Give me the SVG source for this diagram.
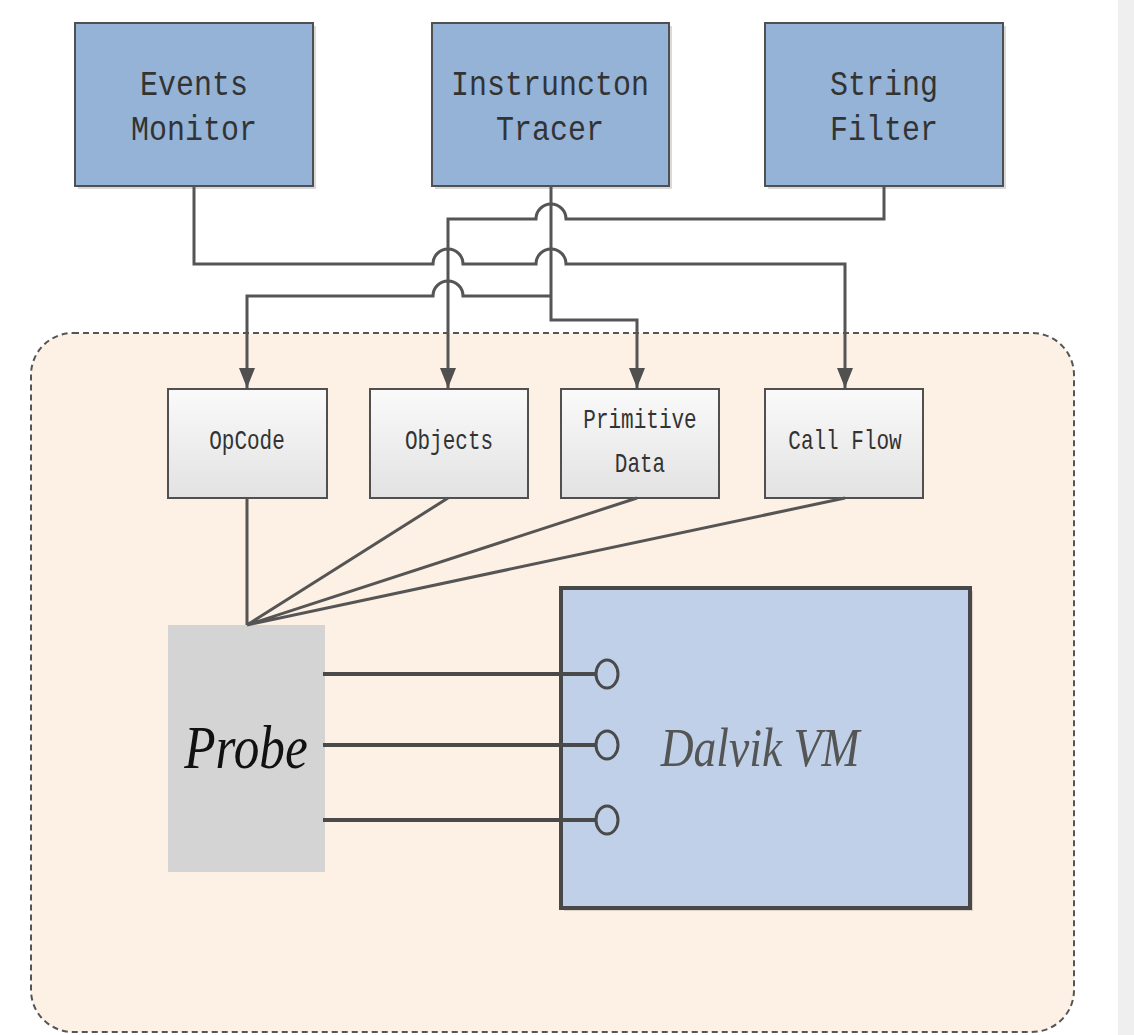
<svg xmlns="http://www.w3.org/2000/svg" width="1134" height="1035" viewBox="0 0 1134 1035">
<style>
.top{fill:#95b3d7;stroke:#505050;stroke-width:2}
.shadow{fill:#000;opacity:0.15}
.mid{fill:url(#midg);stroke:#505050;stroke-width:2}
.tt{font-family:"Liberation Mono",monospace;font-size:30px;fill:#333;text-anchor:middle}
.mt{font-family:"Liberation Mono",monospace;font-size:21px;fill:#333;text-anchor:middle}
.conn{fill:none;stroke:#555;stroke-width:3}
.thick{fill:none;stroke:#4a4a4a;stroke-width:4}
</style>
<defs>
<linearGradient id="midg" x1="0" y1="0" x2="0" y2="1">
<stop offset="0" stop-color="#fafafa"/>
<stop offset="1" stop-color="#e2e2e2"/>
</linearGradient>
<marker id="ad" markerUnits="userSpaceOnUse" markerWidth="16" markerHeight="20" refX="8" refY="20" orient="0" viewBox="0 0 16 20">
<path d="M0 0 L16 0 L8 20 Z" fill="#505050"/>
</marker>
</defs>
<rect x="0" y="0" width="1134" height="1035" fill="#ffffff"/>
<rect x="1118" y="0" width="16" height="1035" fill="#efefef"/>

<g id="container">
<rect x="31" y="333" width="1043" height="699" rx="42" ry="42" fill="#fdf0e4" stroke="#555" stroke-width="2" stroke-dasharray="6 4"/>
</g>

<g id="events-monitor">
<rect class="shadow" x="78" y="26" width="238" height="163"/>
<rect class="top" x="75" y="23" width="238" height="163"/>
<text class="tt" transform="translate(194 95) scale(1 1.15)">Events</text>
<text class="tt" transform="translate(194 140) scale(1 1.15)">Monitor</text>
</g>
<g id="instruction-tracer">
<rect class="shadow" x="435" y="26" width="237" height="163"/>
<rect class="top" x="432" y="23" width="237" height="163"/>
<text class="tt" transform="translate(550 95) scale(1 1.15)">Instruncton</text>
<text class="tt" transform="translate(550 140) scale(1 1.15)">Tracer</text>
</g>
<g id="string-filter">
<rect class="shadow" x="768" y="26" width="238" height="163"/>
<rect class="top" x="765" y="23" width="238" height="163"/>
<text class="tt" transform="translate(884 95) scale(1 1.15)">String</text>
<text class="tt" transform="translate(884 140) scale(1 1.15)">Filter</text>
</g>

<g id="opcode">
<rect class="mid" x="168" y="389" width="159" height="109"/>
<text class="mt" transform="translate(247 449) scale(1 1.3)">OpCode</text>
</g>
<g id="objects">
<rect class="mid" x="370" y="389" width="158" height="109"/>
<text class="mt" transform="translate(449 449) scale(1 1.3)">Objects</text>
</g>
<g id="primitive-data">
<rect class="mid" x="561" y="389" width="158" height="109"/>
<text class="mt" transform="translate(640 428) scale(1 1.3)">Primitive</text>
<text class="mt" transform="translate(640 472) scale(1 1.3)">Data</text>
</g>
<g id="call-flow">
<rect class="mid" x="765" y="389" width="158" height="109"/>
<text class="mt" transform="translate(845 449) scale(1 1.3)">Call Flow</text>
</g>

<g id="probe">
<rect x="168" y="625" width="157" height="247" fill="#d4d4d4"/>
<text transform="translate(246 768) scale(0.95 1.15)" font-family="Liberation Serif, serif" font-style="italic" font-size="54" fill="#111" text-anchor="middle">Probe</text>
</g>

<g id="dalvik-vm">
<rect x="564" y="591" width="409" height="320" fill="#000" opacity="0.12"/>
<rect x="561" y="588" width="409" height="320" fill="#bfd0e8" stroke="#484848" stroke-width="4"/>
<text transform="translate(760 766) scale(0.95 1.15)" font-family="Liberation Serif, serif" font-style="italic" font-size="48" fill="#555" text-anchor="middle">Dalvik VM</text>
</g>

<g id="connectors">
<path class="conn" d="M194 186 V264 H433 A15 15 0 0 1 463 264 H536 A15 15 0 0 1 566 264 H845 V388" marker-end="url(#ad)"/>
<path class="conn" d="M884 186 V219 H566 A15 15 0 0 0 536 219 H448 V388" marker-end="url(#ad)"/>
<path class="conn" d="M551 186 V320 H637 V388" marker-end="url(#ad)"/>
<path class="conn" d="M551 296 H463 A15 15 0 0 0 433 296 H247 V388" marker-end="url(#ad)"/>
<path class="conn" d="M247 498 V625 M448 498 L247 625 M637 498 L247 625 M845 498 L247 625"/>
<path class="thick" d="M323 674 H596 M323 745 H596 M323 820 H596"/>
<ellipse cx="607" cy="674" rx="11" ry="14" fill="#bfd0e8" stroke="#4a4a4a" stroke-width="3"/>
<ellipse cx="607" cy="745" rx="11" ry="14" fill="#bfd0e8" stroke="#4a4a4a" stroke-width="3"/>
<ellipse cx="607" cy="820" rx="11" ry="14" fill="#bfd0e8" stroke="#4a4a4a" stroke-width="3"/>
</g>
</svg>
